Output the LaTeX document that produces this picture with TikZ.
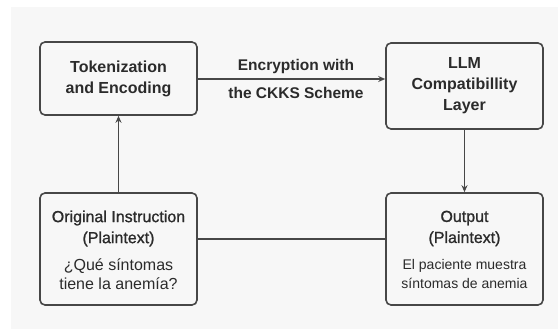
\documentclass[tikz,border=0pt]{standalone}
\usepackage{fontspec}
\setmainfont{Liberation Sans}
\newfontfamily\medfont[FakeBold=1.2]{Liberation Sans}
\usetikzlibrary{arrows.meta}
\definecolor{bgc}{HTML}{F7F7F7}
\definecolor{ink}{HTML}{2B2B2B}
\definecolor{edge}{HTML}{474747}
\tikzset{
  box/.style={draw=edge, line width=1.6pt, rounded corners=5pt, fill=bgc, text=ink, align=center, inner sep=0pt},
  conn/.style={draw=edge, line width=1.6pt},
  arr/.style={conn, -{Stealth[length=7pt,width=6pt]}},
  ttl/.style={font=\fontsize{16}{21}\selectfont\bfseries},
}
\begin{document}
\begin{tikzpicture}[x=1pt,y=-1pt]
\useasboundingbox (0,0) rectangle (558,329);
\fill[white] (0,0) rectangle (558,329);
\fill[bgc] (11,7) rectangle (558,329);
\node[box, minimum width=157pt, minimum height=73pt, ttl] (tok) at (118.5,78.5) {Tokenization\\and Encoding};
\node[box, minimum width=157pt, minimum height=86pt, ttl] (llm) at (464.5,86) {LLM\\Compatibillity\\Layer};
\node[box, minimum width=157pt, minimum height=112pt] (orig) at (118.5,249) {};
\node[text=ink, align=center, font=\fontsize{16}{21}\selectfont\medfont] at (118.5,228.5) {Original Instruction\\(Plaintext)};
\node[text=ink, align=center, font=\fontsize{16}{19}\selectfont] at (118.5,274) {¿Qué síntomas\\tiene la anemía?};
\node[box, minimum width=157pt, minimum height=112pt] (out) at (464.5,249) {};
\node[text=ink, align=center, font=\fontsize{16}{21}\selectfont\medfont] at (464.5,228.5) {Output\\(Plaintext)};
\node[text=ink, align=center, font=\fontsize{14}{19}\selectfont] at (464.5,274) {El paciente muestra\\síntomas de anemia};
\draw[arr] (tok.east |- 0,79) -- (llm.west |- 0,79);
\node[text=ink, align=center, font=\fontsize{15.5}{28}\selectfont\bfseries] (lbl) at (296,79) {Encryption with\\the CKKS Scheme};
\draw[arr] (orig.north) -- (tok.south);
\draw[arr] (llm.south) -- (out.north);
\draw[conn] (orig.east |- 0,239) -- (out.west |- 0,239);
\end{tikzpicture}
\end{document}
